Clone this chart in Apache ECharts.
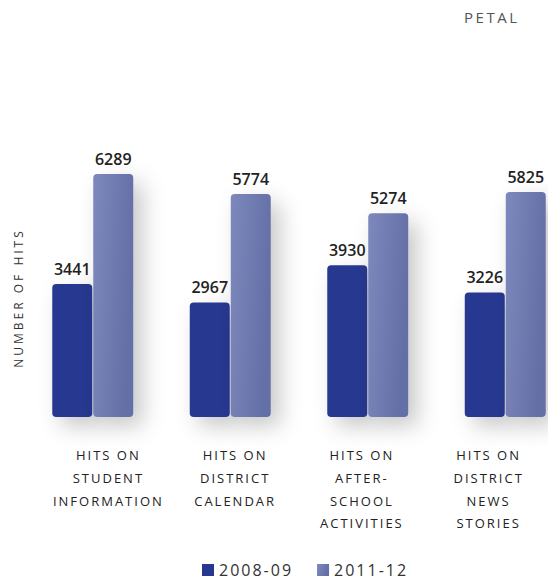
<!DOCTYPE html>
<html>
<head>
<meta charset="utf-8">
<style>
  html, body { margin: 0; padding: 0; background: #fff; overflow: hidden; width: 548px; height: 580px; }
  #chart { width: 600px; height: 580px; }
  #chart svg text { letter-spacing: 2px; }
</style>
<script src="https://cdn.jsdelivr.net/npm/echarts@6/dist/echarts.min.js"></script>
</head>
<body>
<div id="chart"></div>
<script>
const categories = [
  'HITS ON\nSTUDENT\nINFORMATION',
  'HITS ON\nDISTRICT\nCALENDAR',
  'HITS ON\nAFTER-\nSCHOOL\nACTIVITIES',
  'HITS ON\nDISTRICT\nNEWS\nSTORIES'
];
const seriesNames = ['2008-09', '2011-12'];
const values2008 = [3441, 2967, 3930, 3226];
const values2011 = [6289, 5774, 5274, 5825];
const titleText = 'PETAL';
const yAxisName = 'NUMBER OF HITS';

const FONT = "'Open Sans', sans-serif";
const chart = echarts.init(document.getElementById('chart'), null, { renderer: 'svg' });

const shadow = {
  shadowColor: 'rgba(0,0,0,0.22)',
  shadowBlur: 22,
  shadowOffsetX: 9,
  shadowOffsetY: 9
};
const valueLabel = {
  show: true,
  position: 'top',
  distance: 7,
  color: '#222',
  fontFamily: FONT,
  fontSize: 16,
  fontWeight: 600
};

chart.setOption({
  animation: false,
  title: {
    text: titleText,
    right: 88,
    top: 4,
    textStyle: { color: '#555', fontFamily: FONT, fontSize: 15, fontWeight: 'normal' }
  },
  legend: {
    data: seriesNames,
    left: 197,
    top: 557,
    itemWidth: 12,
    itemHeight: 12,
    itemGap: 38,
    icon: 'rect',
    itemStyle: { shadowBlur: 0, shadowOffsetX: 0, shadowOffsetY: 0, shadowColor: 'transparent' },
    textStyle: { color: '#333', fontFamily: FONT, fontSize: 16 }
  },
  grid: [
    { left: 24, right: 26, top: 108, bottom: 163 },
    { left: 45, right: 48, top: 179, bottom: 163 }
  ],
  xAxis: [
    {
      type: 'category', gridIndex: 0, data: categories,
      axisLine: { show: false }, axisTick: { show: false }, axisLabel: { show: false }
    },
    {
      type: 'category', gridIndex: 1, data: categories,
      axisLine: { show: false }, axisTick: { show: false },
      axisLabel: {
        interval: 0, margin: 27, color: '#222', fontFamily: FONT, fontSize: 13,
        fontWeight: 500, lineHeight: 22.7, align: 'center'
      }
    }
  ],
  yAxis: [
    {
      type: 'value', gridIndex: 0, min: 0, max: 8000,
      axisLine: { show: false }, axisTick: { show: false },
      axisLabel: { show: false }, splitLine: { show: false }
    },
    {
      type: 'value', gridIndex: 1, min: 0, max: 1,
      name: yAxisName, nameLocation: 'middle', nameGap: 21, nameRotate: 90,
      nameTextStyle: { color: '#333', fontFamily: FONT, fontSize: 12 },
      axisLine: { show: false }, axisTick: { show: false },
      axisLabel: { show: false }, splitLine: { show: false }
    }
  ],
  series: [
    {
      name: seriesNames[0], type: 'bar', xAxisIndex: 0, yAxisIndex: 0,
      data: values2008, barWidth: 40, barGap: '2.5%',
      itemStyle: Object.assign({ color: '#283890', borderRadius: 4 }, shadow),
      label: valueLabel
    },
    {
      name: seriesNames[1], type: 'bar', xAxisIndex: 0, yAxisIndex: 0,
      data: values2011, barWidth: 40, barGap: '2.5%',
      itemStyle: Object.assign({
        color: new echarts.graphic.LinearGradient(0, 0, 1, 0.3, [
          { offset: 0, color: '#7d88bd' },
          { offset: 1, color: '#646fa5' }
        ]),
        borderRadius: 4
      }, shadow),
      label: valueLabel
    }
  ]
});

function fixSpacing() {
  document.querySelectorAll('#chart svg text').forEach(function (t) {
    const s = (t.textContent || '').trim();
    if (/^\d+$/.test(s)) t.style.letterSpacing = '0px';
    else if (s === yAxisName) t.style.letterSpacing = '3px';
    else if (s === titleText) t.style.letterSpacing = '2.5px';
    else t.style.letterSpacing = '2px';
  });
}
chart.on('finished', fixSpacing);
fixSpacing();
setTimeout(fixSpacing, 50);
</script>
</body>
</html>
